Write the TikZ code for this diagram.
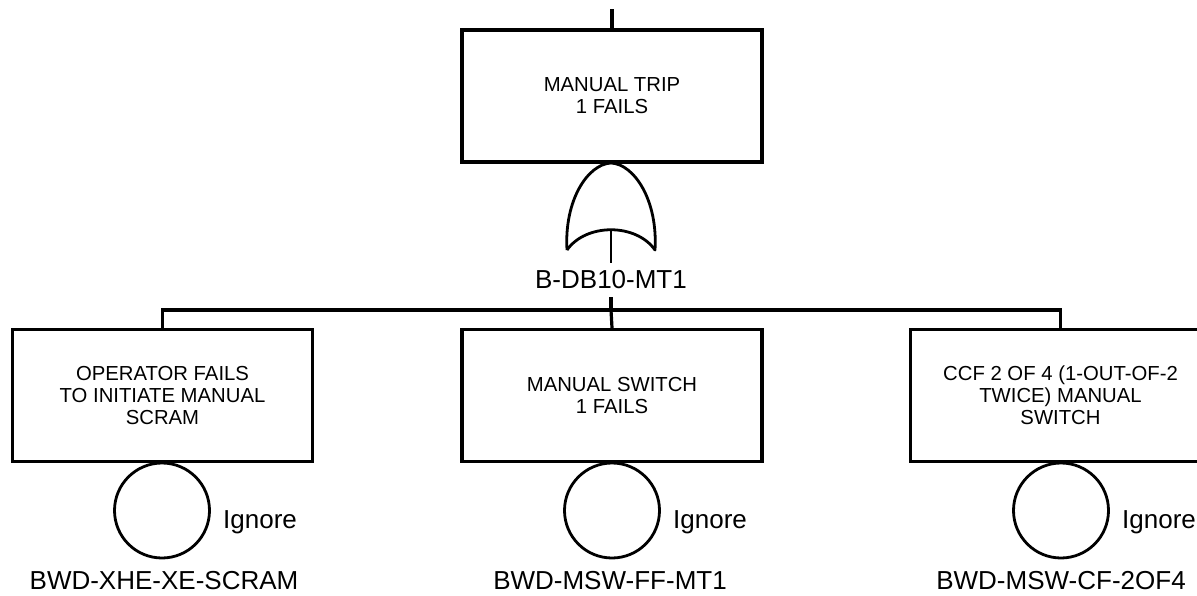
\documentclass[tikz,border=0pt]{standalone}
\usepackage{fontspec}
\setmainfont{Liberation Sans}
\begin{document}
\begin{tikzpicture}[x=1pt,y=-1pt,
  evbox/.style={draw,line width=3.2pt,minimum width=300pt,minimum height=132pt,inner sep=0pt,align=center,font=\fontsize{20.3}{22.2}\selectfont},
  conn/.style={line width=3.2pt},
  gateline/.style={line width=2.8pt},
  basic/.style={draw,circle,line width=2.8pt,minimum size=95pt,inner sep=0pt},
  lbl/.style={font=\fontsize{26}{30}\selectfont,inner sep=0pt}
]
\clip (0,0) rectangle (1197,595);
\fill[white] (0,0) rectangle (1197,595);

% top event
\coordinate (topend) at (612,9);
\node[evbox] (top) at (612,96) {MANUAL TRIP\\1 FAILS};
\draw[conn] (topend) -- (top.north);

% OR gate
\coordinate (gapex) at (611,163);
\coordinate (gl) at (567,250);
\coordinate (gr) at (655,250);
\coordinate (gstem) at (611,230);
\draw[gateline,line join=round] (gl) .. controls (564,200) and (588,164) .. (gapex)
  .. controls (634,164) and (658,200) .. (gr)
  .. controls (636,223) and (586,223) .. (gl);
\node[lbl,anchor=base] (glabel) at (611,288) {B-DB10-MT1};
\coordinate (stembot) at (611,263);
\draw[gateline] (gstem) -- (stembot);
\coordinate (gbot) at (611,297);
\coordinate (bar) at (611,310);
\draw[conn] (gbot) -- (bar);

% children
\node[evbox] (b1) at (162.5,395.5) {OPERATOR FAILS\\TO INITIATE MANUAL\\SCRAM};
\node[evbox] (b2) at (612,395.5) {MANUAL SWITCH\\1 FAILS};
\node[evbox] (b3) at (1060.5,395.5) {CCF 2 OF 4 (1-OUT-OF-2\\TWICE) MANUAL\\SWITCH};
\draw[conn] (b1.north) |- (bar) -| (b3.north);
\draw[conn] (bar) -- (b2.north);

% basic events
\node[basic] (e1) at (162,510.5) {};
\node[basic] (e2) at (612,510.5) {};
\node[basic] (e3) at (1061,510.5) {};
\node[lbl,anchor=base west] (i1) at (223,528) {Ignore};
\node[lbl,anchor=base west] (i2) at (673,528) {Ignore};
\node[lbl,anchor=base west] (i3) at (1122,528) {Ignore};
\node[lbl,anchor=base] (n1) at (164,589) {BWD-XHE-XE-SCRAM};
\node[lbl,anchor=base] (n2) at (610,589) {BWD-MSW-FF-MT1};
\node[lbl,anchor=base] (n3) at (1061,589) {BWD-MSW-CF-2OF4};
\end{tikzpicture}
\end{document}
